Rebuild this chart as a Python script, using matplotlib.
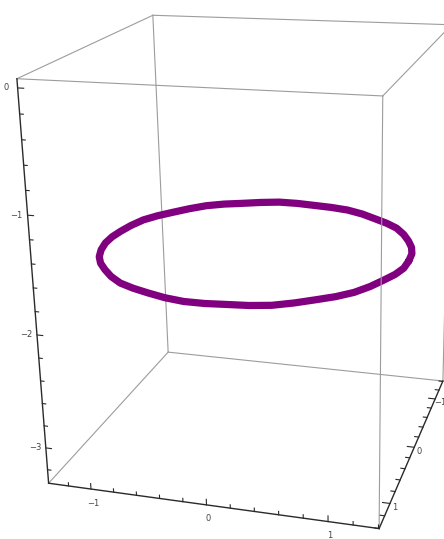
import numpy as np
import matplotlib
matplotlib.use('Agg')
import matplotlib.pyplot as plt
from mpl_toolkits.mplot3d import proj3d

# ---- data ----
x_lim = (-1.38, 1.405)
y_lim = (1.40, -1.41)      # front (y=1) to back (y=-1)
z_lim = (-3.325, 0.07)
x_major = [-1, 0, 1]
y_major = [1, 0, -1]
z_major = [0, -1, -2, -3]
x_labels = ['−1', '0', '1']
y_labels = ['1', '0', '−1']
z_labels = ['0', '−1', '−2', '−3']
minor_step = 0.2

ring_angle_deg = [0, 7.5, 15, 22.5, 30, 37.5, 45, 52.5, 60, 67.5, 75, 82.5,
                  90, 97.5, 105, 112.5, 120, 127.5, 135, 142.5, 150, 157.5, 165, 172.5,
                  180, 187.5, 195, 202.5, 210, 217.5, 225, 232.5, 240, 247.5, 255, 262.5,
                  270, 277.5, 285, 292.5, 300, 307.5, 315, 322.5, 330, 337.5, 345, 352.5]
ring_radius = [1.318, 1.322, 1.319, 1.315, 1.318, 1.322, 1.320, 1.316, 1.319, 1.321, 1.318, 1.315,
               1.318, 1.321, 1.319, 1.316, 1.318, 1.322, 1.319, 1.315, 1.318, 1.320, 1.317, 1.315,
               1.314, 1.316, 1.318, 1.321, 1.319, 1.316, 1.318, 1.322, 1.319, 1.316, 1.318, 1.321,
               1.319, 1.315, 1.318, 1.322, 1.320, 1.316, 1.319, 1.322, 1.318, 1.315, 1.318, 1.321]
ring_z = [-1.630, -1.634, -1.631, -1.627, -1.630, -1.633, -1.631, -1.628, -1.630, -1.634, -1.631, -1.627,
          -1.630, -1.633, -1.631, -1.628, -1.630, -1.634, -1.631, -1.627, -1.630, -1.633, -1.631, -1.628,
          -1.630, -1.634, -1.631, -1.627, -1.630, -1.633, -1.631, -1.628, -1.630, -1.634, -1.631, -1.627,
          -1.630, -1.633, -1.631, -1.628, -1.630, -1.634, -1.631, -1.627, -1.630, -1.633, -1.631, -1.628]
ring_center_x = 0.015

# ---- figure ----
fig = plt.figure(figsize=(4.44, 5.39), dpi=100)
ax = fig.add_axes([-0.1146, -0.0283, 1.3434, 1.1066], projection='3d')
ax.computed_zorder = False
ax.set_proj_type('persp', focal_length=0.4342)
ax.view_init(elev=19.083, azim=-72.395, roll=1.301)
ax.set_xlim(*x_lim)
ax.set_ylim(*y_lim)
ax.set_zlim(*z_lim)
ax.set_box_aspect((x_lim[1] - x_lim[0], abs(y_lim[1] - y_lim[0]), z_lim[1] - z_lim[0]))
ax.set_axis_off()

x0, x1 = x_lim
yf, yb = y_lim
z0, z1 = z_lim

grey = '#9c9c9c'
dark = '#2a2a2a'

def seg(p, q, **kw):
    ax.plot([p[0], q[0]], [p[1], q[1]], [p[2], q[2]], **kw)

# back box edges (behind the ring)
back_kw = dict(color=grey, lw=0.8, zorder=1)
seg((x0, yb, z0), (x0, yb, z1), **back_kw)
seg((x0, yb, z0), (x1, yb, z0), **back_kw)
seg((x0, yb, z0), (x0, yf, z0), **back_kw)
seg((x1, yb, z0), (x1, yb, z1), **back_kw)

# ring
ang = np.deg2rad(ring_angle_deg + [ring_angle_deg[0]])
rad = np.array(ring_radius + [ring_radius[0]])
rz = np.array(ring_z + [ring_z[0]])
ax.plot(ring_center_x + rad * np.cos(ang), rad * np.sin(ang), rz, color='#800080',
        lw=5.2, solid_capstyle='round', solid_joinstyle='round', zorder=2)

# top / front box edges
front_kw = dict(color=grey, lw=0.8, zorder=3)
seg((x0, yf, z1), (x1, yf, z1), **front_kw)
seg((x0, yb, z1), (x1, yb, z1), **front_kw)
seg((x0, yf, z1), (x0, yb, z1), **front_kw)
seg((x1, yf, z1), (x1, yb, z1), **front_kw)
seg((x1, yf, z0), (x1, yf, z1), **front_kw)

# axis edges
ax_kw = dict(color=dark, lw=1.0, zorder=4)
seg((x0, yf, z0), (x0, yf, z1), **ax_kw)   # z axis
seg((x0, yf, z0), (x1, yf, z0), **ax_kw)   # x axis
seg((x1, yf, z0), (x1, yb, z0), **ax_kw)   # y axis

tick_kw = dict(color=dark, lw=0.8, zorder=4)

def is_major(t):
    return abs(t - round(t)) < 1e-6

for t in np.arange(np.ceil(z0 / minor_step) * minor_step, z1 + 1e-9, minor_step):
    L = 0.05 if is_major(t) else 0.03
    seg((x0, yf, t), (x0 + L, yf, t), **tick_kw)
for t in np.arange(np.ceil(x0 / minor_step) * minor_step, x1 + 1e-9, minor_step):
    L = 0.05 if is_major(t) else 0.03
    seg((t, yf, z0), (t, yf, z0 + L), **tick_kw)
for t in np.arange(np.ceil(min(y_lim) / minor_step) * minor_step, max(y_lim) + 1e-9, minor_step):
    L = 0.06 if is_major(t) else 0.035
    seg((x1, t, z0), (x1 - L, t, z0), **tick_kw)

# tick labels: project the tick positions and place 2D labels with pixel offsets
M = ax.get_proj()

def label(p, s, dx, dy):
    px, py, _ = proj3d.proj_transform(np.array([p[0]]), np.array([p[1]]), np.array([p[2]]), M)
    ax.annotate(s, xy=(px[0], py[0]), xycoords='data', xytext=(dx, dy),
                textcoords='offset pixels', fontsize=6, color='#444444',
                ha='center', va='center', family='DejaVu Sans', annotation_clip=False)

for v, s in zip(z_major, z_labels):
    label((x0, yf, v), s, -11, 0)
for v, s in zip(x_major, x_labels):
    label((v, yf, z0), s, 2, -14)
for v, s in zip(y_major, y_labels):
    label((x1, v, z0), s, 5, -4)

fig.savefig('out.png', dpi=100)
